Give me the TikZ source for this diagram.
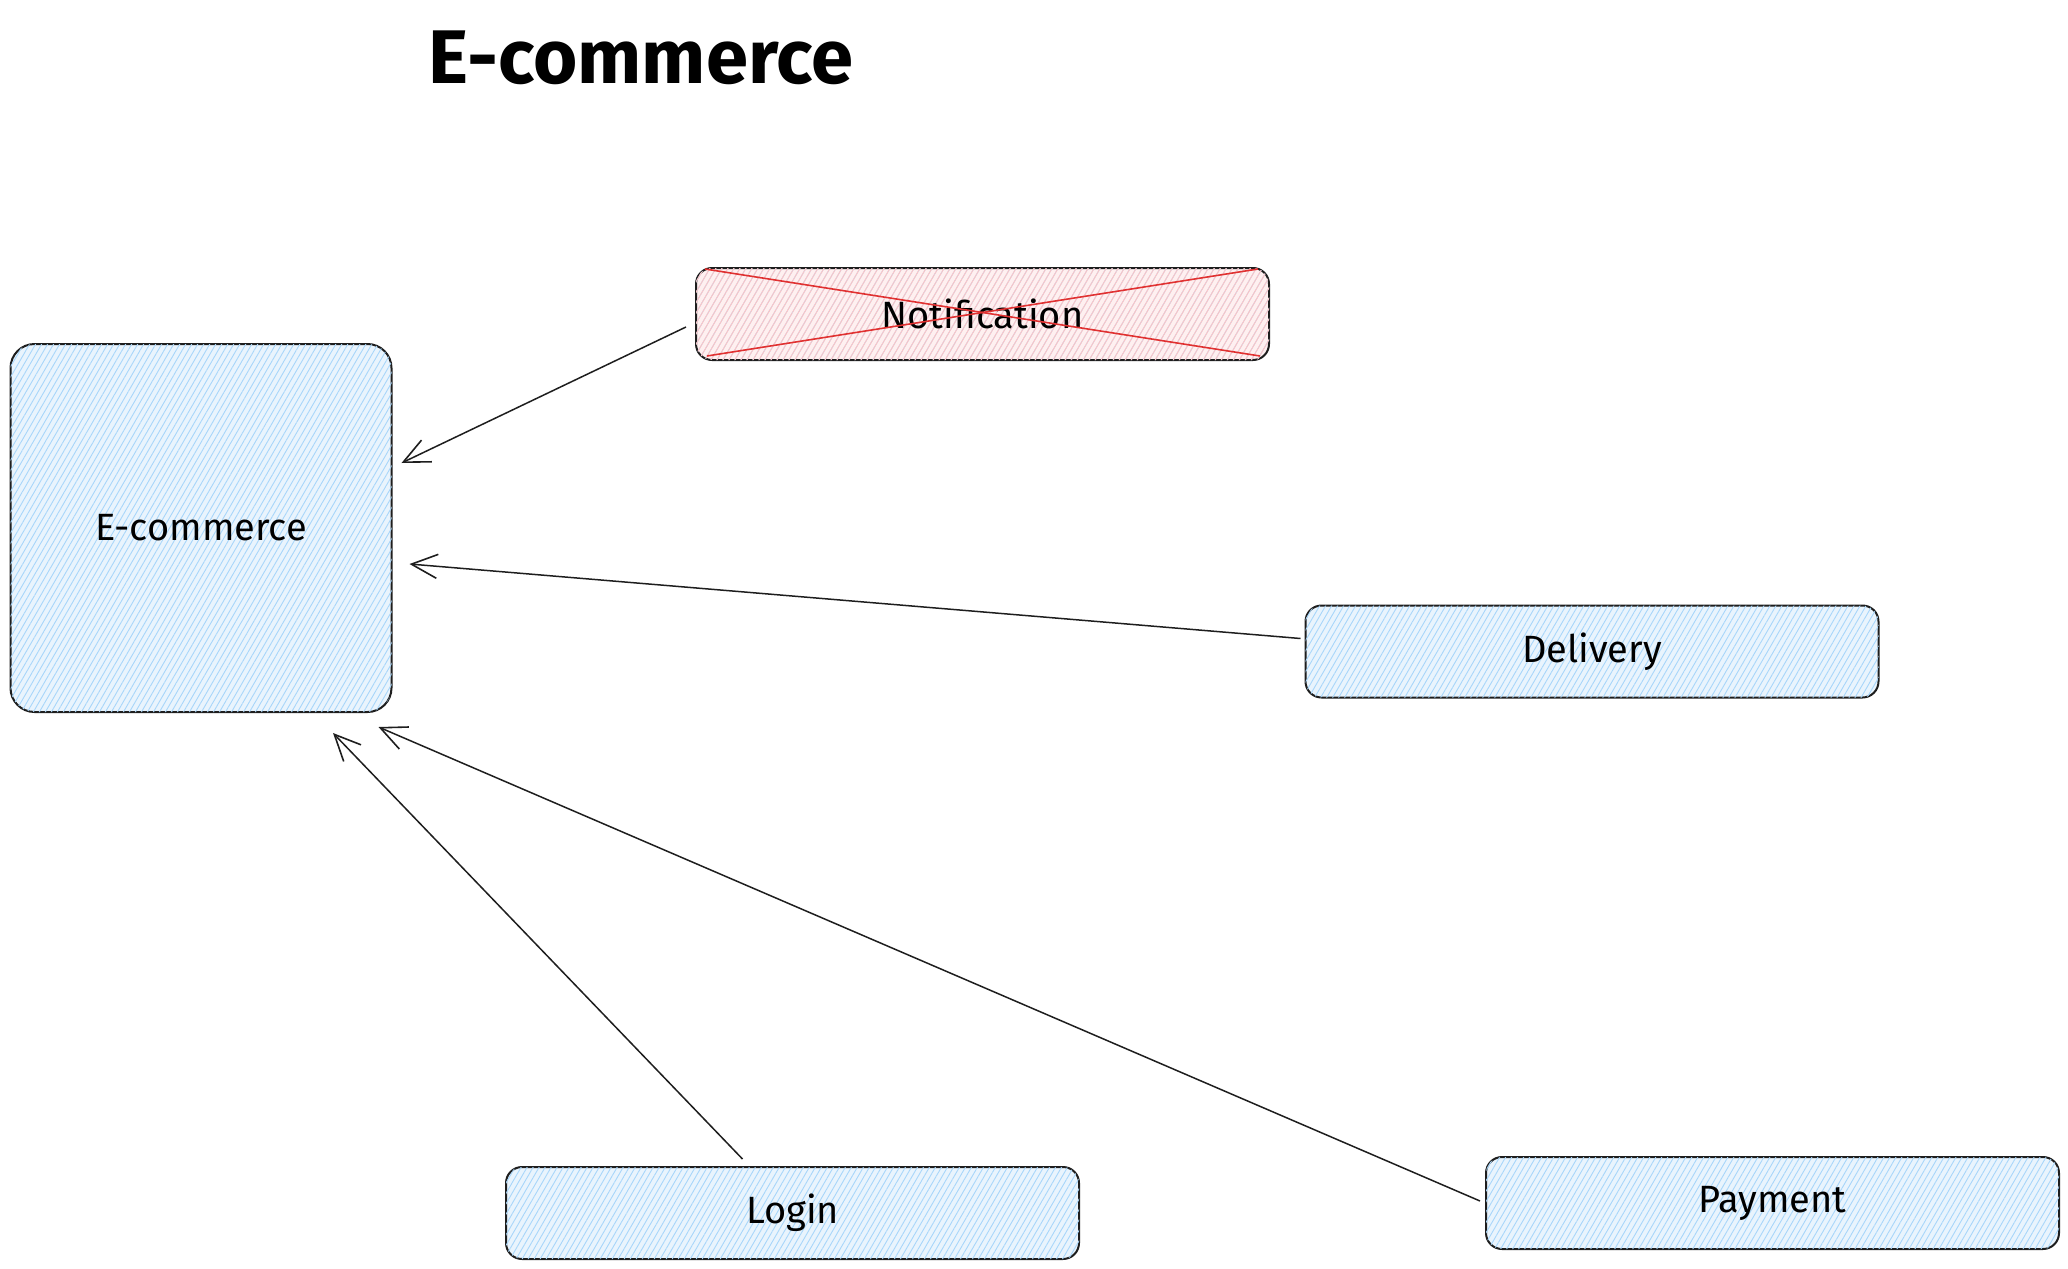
\documentclass[tikz,border=0pt]{standalone}
\usepackage{fontspec}
\setmainfont{Fira Sans}
\usepackage{tikz}
\usetikzlibrary{arrows.meta}
\usetikzlibrary{calc}
\usetikzlibrary{patterns.meta}
\definecolor{inkgray}{RGB}{30,30,30}
\definecolor{bluefill}{RGB}{233,244,253}
\definecolor{bluehatch}{RGB}{168,214,250}
\definecolor{redfill}{RGB}{255,240,240}
\definecolor{redhatch}{RGB}{255,196,196}
\definecolor{crossred}{RGB}{224,49,49}
\tikzset{
    svcbox/.style={draw=inkgray, line width=1pt, rounded corners=8pt,
        fill=bluefill,
        postaction={pattern={Lines[angle=60,distance=2.6pt,line width=0.45pt]}, pattern color=bluehatch},
        minimum width=286.5pt, minimum height=46pt, inner sep=0pt,
        font=\fontsize{19}{23}\selectfont},
    offbox/.style={svcbox, fill=redfill,
        postaction={pattern={Lines[angle=60,distance=2.6pt,line width=0.45pt]}, pattern color=redhatch}},
}
\newcommand{\linkarrow}{\draw[inkgray, line width=0.75pt, -{Straight Barb[length=13pt,width=12pt,line width=0.8pt]}]}

\begin{document}
\begin{tikzpicture}[x=0.5pt, y=-0.5pt]
    \useasboundingbox (0,0) rectangle (2068,1269);

    % Title
    \node[font=\fontsize{38}{44}\selectfont\bfseries] (title) at (641,58) {E-commerce};

    % Draw boxes
    \node[svcbox, rounded corners=12pt, minimum width=190.5pt, minimum height=184pt] (ecom) at (201,528) {E-commerce};
    \node[offbox] (notif) at (982.5,314) {Notification};
    \node[svcbox] (deliv) at (1592,651.5) {Delivery};
    \node[svcbox] (login) at (792.5,1213) {Login};
    \node[svcbox] (pay) at (1772.5,1203) {Payment};

    % Cross out notification
    \draw[crossred, line width=0.8pt] ($(notif.north west)+(10,2)$) -- ($(notif.south east)+(-10,-5)$);
    \draw[crossred, line width=0.8pt] ($(notif.south west)+(12,-5)$) -- ($(notif.north east)+(-12,2)$);

    % Draw links
    \linkarrow ($(notif.west)+(-9,13)$) -- ($(ecom.east)+(9,-65)$);
    \linkarrow ($(deliv.west)+(-4,-13)$) -- ($(ecom.east)+(17,36)$);
    \linkarrow ($(login.north)+(-50,-7)$) -- ($(ecom.south)+(132,20)$);
    \linkarrow ($(pay.west)+(-5,-2)$) -- ($(ecom.south east)+(-14,14)$);
\end{tikzpicture}
\end{document}
